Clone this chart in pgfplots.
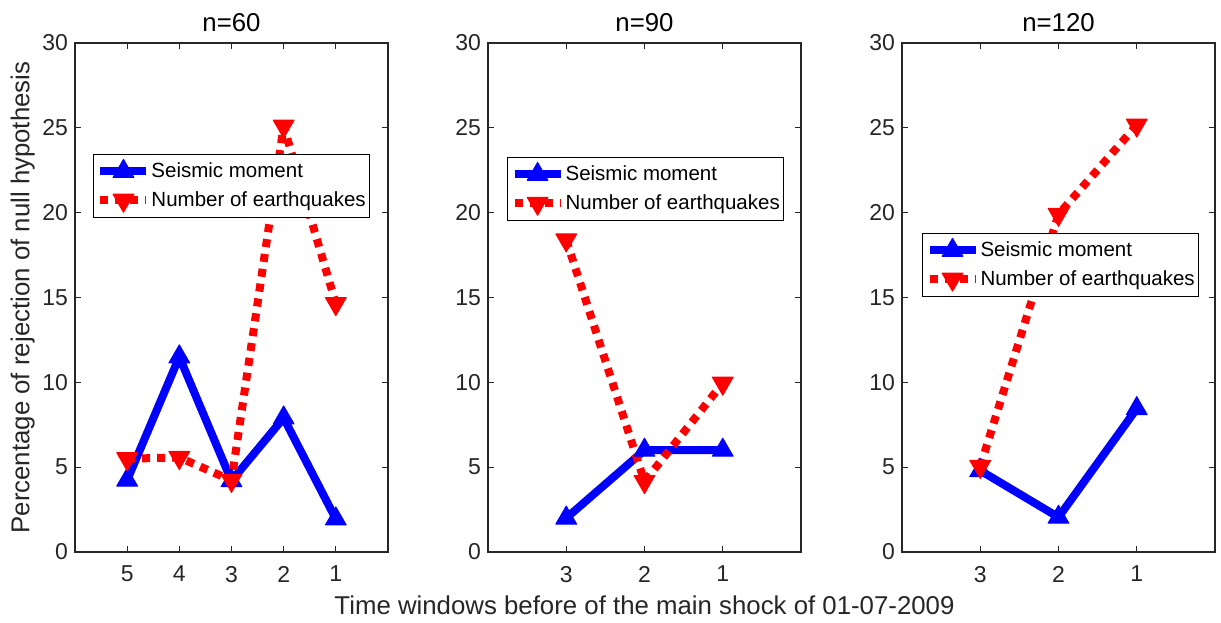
\documentclass[border=0pt]{standalone}
\usepackage{fontspec}
\setmainfont{Liberation Sans}
\usepackage{pgfplots}
\pgfplotsset{compat=1.18}
\definecolor{axgray}{gray}{0.15}

\pgfplotsset{
  myaxis/.style={
    scale only axis, width=156.5pt, height=254.5pt,
    anchor=south west,
    x dir=reverse,
    ymin=0, ymax=30, ytick={0,5,...,30},
    xmin=0,
    tick align=inside,
    major tick length=3pt,
    axis line style={axgray, line width=0.6pt},
    every tick/.style={axgray, line width=0.6pt},
    tick label style={font=\fontsize{11.5}{13}\selectfont, text=axgray},
    xticklabel style={yshift=-3.5pt},
    /pgf/number format/assume math mode=true,
    title style={font=\fontsize{12.9}{15}\selectfont, text=black, yshift=-4pt},
    label style={font=\fontsize{12.9}{15}\selectfont, text=axgray},
    ylabel style={yshift=-3pt},
    legend style={font=\fontsize{10.25}{12}\selectfont, draw=black, line width=0.5pt, anchor=north west,
      inner xsep=1.5pt, inner ysep=2pt, row sep=1.5pt, nodes={inner xsep=0.5pt}},
    legend cell align=left,
    legend image code/.code={\draw[mark repeat=2, mark phase=2] plot coordinates {(0pt,0pt) (11.5pt,0pt) (23pt,0pt)};},
  },
  bl/.style={blue, line width=4pt, line join=round, mark=triangle*, mark size=6pt, mark options={solid, line width=0.5pt}},
  rd/.style={red, line width=4pt, line join=round, dash pattern=on 4pt off 3.5pt, mark=triangle*, mark size=6pt, mark options={solid, rotate=180, line width=0.5pt}},
}

\begin{document}
\begin{tikzpicture}
\path[use as bounding box] (0,0) rectangle (610.5pt,311pt);

\begin{axis}[myaxis, at={(37.5pt,35pt)}, xmax=6, xtick={1,2,3,4,5},
  title={n=60}, ylabel={Percentage of rejection of null hypothesis},
  legend style={at={(0.0575,0.782)}}]
\addplot[bl] coordinates {(5,4.24) (4,11.5) (3,4.2) (2,7.9) (1,1.95)};
\addplot[rd] coordinates {(5,5.5) (4,5.57) (3,4.22) (2,25.1) (1,14.64)};
\legend{Seismic moment, Number of earthquakes}
\end{axis}

\begin{axis}[myaxis, at={(244pt,35pt)}, xmax=4, xtick={1,2,3},
  title={n=90}, xlabel={Time windows before of the main shock of 01-07-2009},
  legend style={at={(0.061,0.776)}}]
\addplot[bl] coordinates {(3,2.0) (2,6.0) (1,6.0)};
\addplot[rd] coordinates {(3,18.39) (2,4.15) (1,9.95)};
\legend{Seismic moment, Number of earthquakes}
\end{axis}

\begin{axis}[myaxis, at={(451pt,35pt)}, xmax=4, xtick={1,2,3},
  title={n=120},
  legend style={at={(0.064,0.627)}}]
\addplot[bl] coordinates {(3,4.8) (2,2.05) (1,8.45)};
\addplot[rd] coordinates {(3,5.04) (2,19.9) (1,25.16)};
\legend{Seismic moment, Number of earthquakes}
\end{axis}
\end{tikzpicture}
\end{document}
